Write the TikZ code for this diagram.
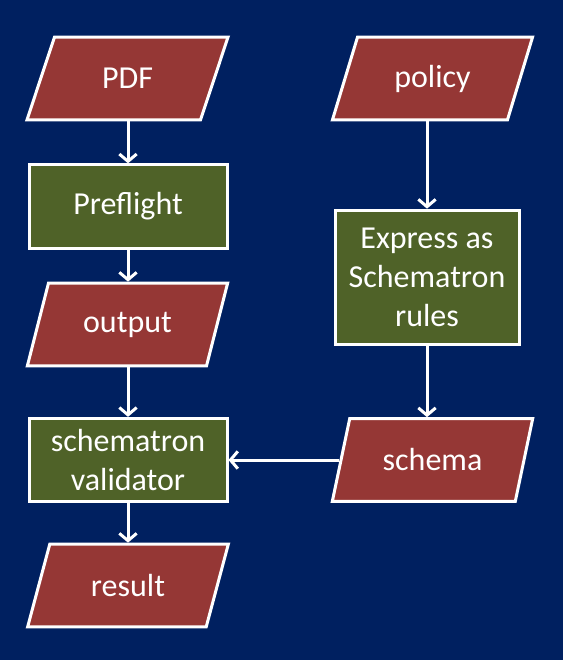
\documentclass[tikz,border=0pt]{standalone}
\usepackage{fontspec}
\setmainfont{Carlito}
\usetikzlibrary{shapes.geometric,arrows.meta}

\definecolor{navy}{HTML}{002060}
\definecolor{datared}{HTML}{953735}
\definecolor{stepgreen}{HTML}{4F6228}

\begin{document}
\begin{tikzpicture}[x=0.75pt,y=-0.75pt,
  line width=2.25pt,
  every node/.style={text=white,font=\fontsize{24}{29}\selectfont,align=center},
  databox/.style={trapezium,trapezium left angle=65,trapezium right angle=115,
    trapezium stretches=true,draw=white,fill=datared,
    minimum width=151pt,minimum height=62pt,inner sep=0pt},
  stepbox/.style={rectangle,draw=white,fill=stepgreen,
    minimum width=148.5pt,minimum height=62.5pt,inner sep=0pt},
  flow/.style={draw=white,-{Straight Barb[length=5.5pt,width=13pt]}}]

% Background
\fill[navy] (0,0) rectangle (563,660);
\useasboundingbox (0,0) rectangle (563,660);

% Left column
\node[databox] (pdf) at (127.5,78.5) {PDF};
\node[stepbox] (preflight) at (128,206.5) {Preflight};
\node[databox] (output) at (127.5,324.5) {output};
\node[stepbox] (validator) at (128,460) {schematron\\validator};
\node[databox] (result) at (128,585.5) {result};

% Right column
\node[databox] (policy) at (432.5,78.5) {policy};
\node[stepbox,minimum width=138pt,minimum height=101pt] (express) at (427,277.5)
  {Express as\\Schematron\\rules};
\node[databox] (schema) at (432.5,460) {schema};

% Arrows
\draw[flow] (pdf.south -| preflight) -- (preflight);
\draw[flow] (preflight) -- (output.north -| preflight);
\draw[flow] (output.south -| validator) -- (validator);
\draw[flow] (validator) -- (result.north -| validator);
\draw[flow] (policy.south -| express) -- (express);
\draw[flow] (express) -- (schema.north -| express);
\draw[flow] (schema.west) -- (schema.west -| validator.east);

\end{tikzpicture}
\end{document}
